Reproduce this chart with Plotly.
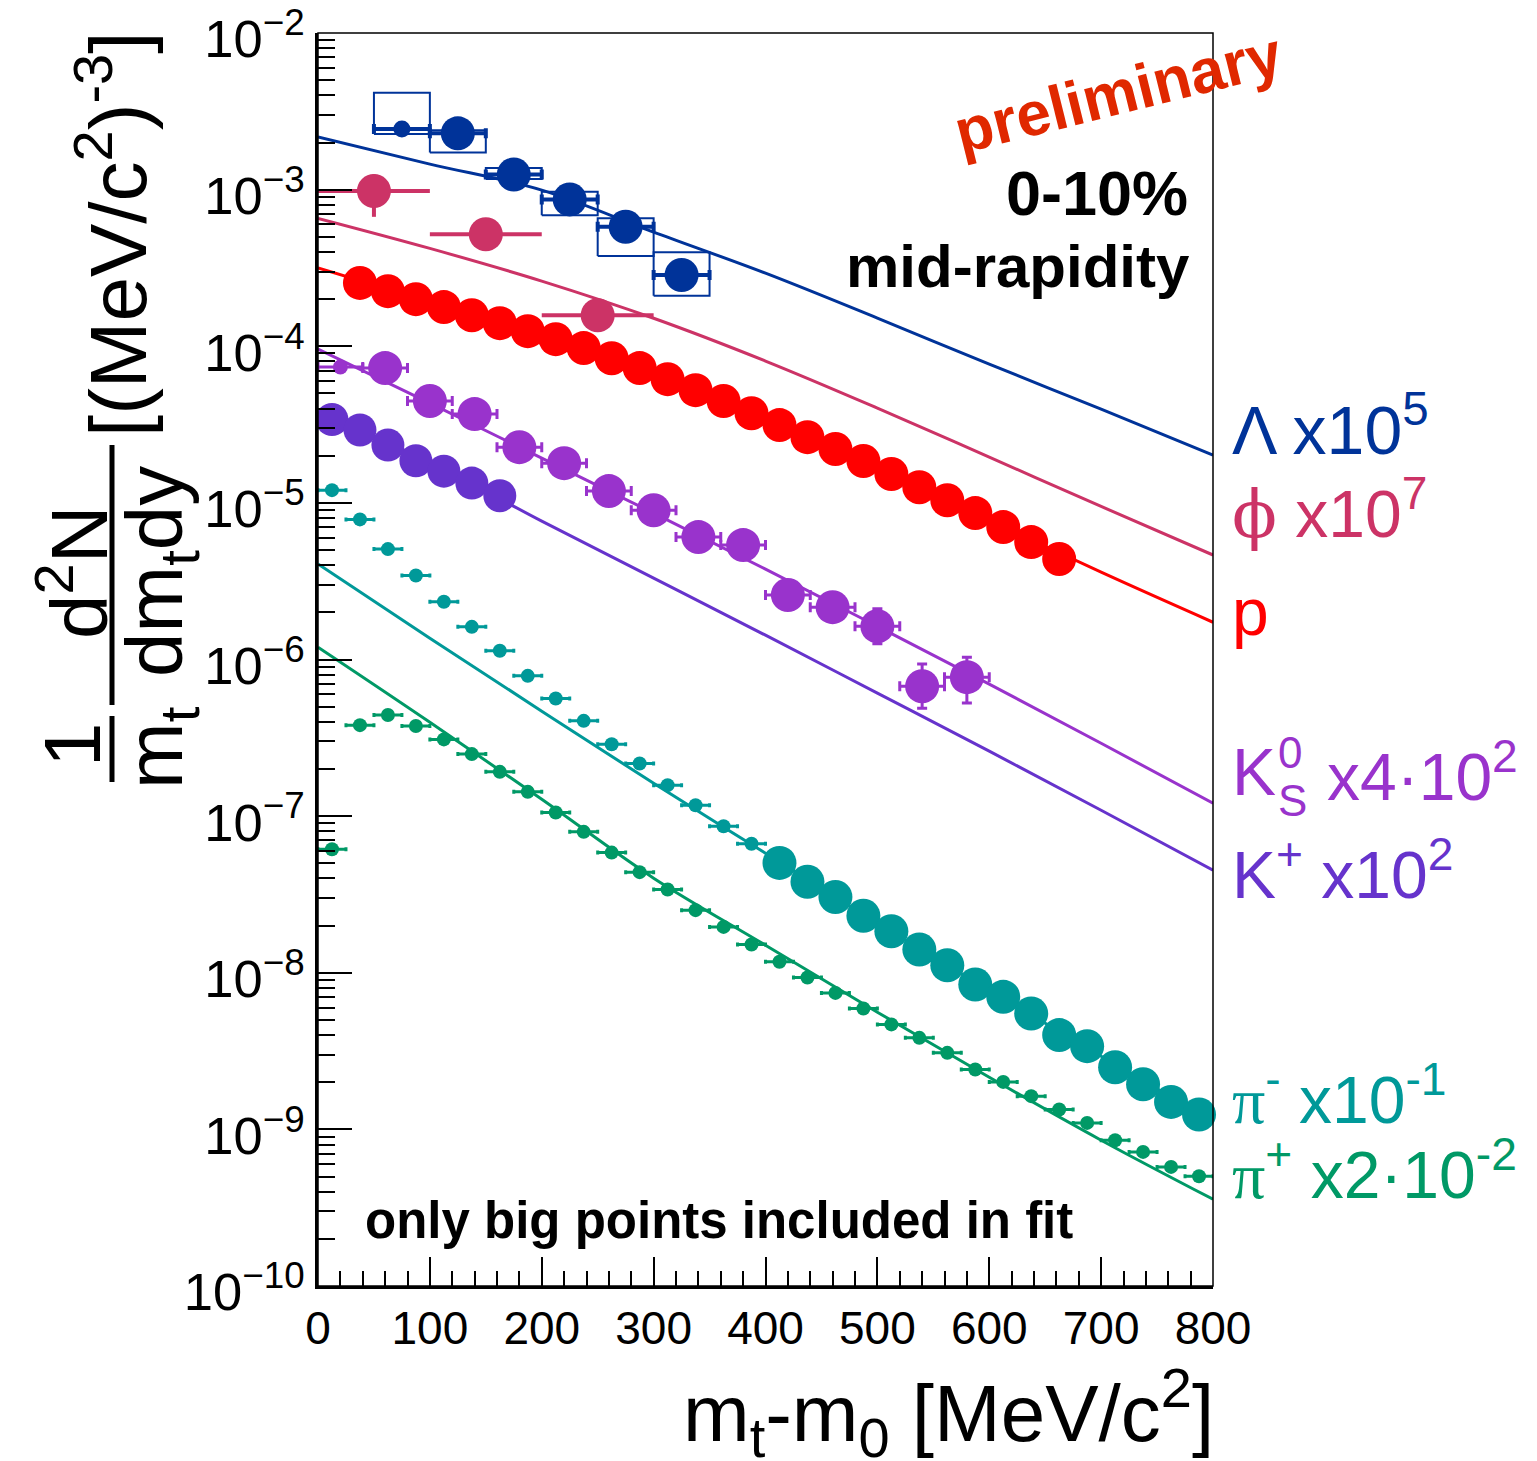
import plotly.graph_objects as go

# ---------------- data ----------------
fit_x = [0, 100, 200, 300, 400, 500, 600, 700, 800]

# Lambda x10^5
lam_x = [75, 125, 175, 225, 275, 325]
lam_y = [2.44e-3, 2.29e-3, 1.25e-3, 8.67e-4, 5.80e-4, 2.85e-4]
lam_xerr = [25, 25, 25, 25, 25, 25]
lam_sys_lo = [2.265e-3, 1.73e-3, 1.169e-3, 6.88e-4, 3.77e-4, 2.10e-4]
lam_sys_hi = [4.16e-3, 2.40e-3, 1.374e-3, 9.69e-4, 6.56e-4, 3.98e-4]
lam_fit = [2.17e-3, 1.457e-3, 9.94e-4, 5.36e-4, 2.93e-4, 1.514e-4, 7.69e-5, 3.97e-5, 2.02e-5]

# phi x10^7
phi_x = [50, 150, 250]
phi_y = [9.8e-4, 5.19e-4, 1.58e-4]
phi_xerr = [50, 50, 50]
phi_yerr_hi = [2.7e-4, 0.0, 0.0]
phi_yerr_lo = [3.09e-4, 0.0, 0.0]
phi_fit = [6.56e-4, 4.22e-4, 2.61e-4, 1.51e-4, 8.05e-5, 4.03e-5, 1.96e-5, 9.5e-6, 4.65e-6]

# protons
p_x = [37.5, 62.5, 87.5, 112.5, 137.5, 162.5, 187.5, 212.5, 237.5, 262.5, 287.5, 312.5, 337.5,
       362.5, 387.5, 412.5, 437.5, 462.5, 487.5, 512.5, 537.5, 562.5, 587.5, 612.5, 637.5, 662.5]
p_y = [2.54e-4, 2.25e-4, 2.00e-4, 1.78e-4, 1.58e-4, 1.406e-4, 1.25e-4, 1.111e-4, 9.74e-5, 8.40e-5,
       7.26e-5, 6.17e-5, 5.25e-5, 4.47e-5, 3.74e-5, 3.14e-5, 2.63e-5, 2.21e-5, 1.85e-5, 1.53e-5,
       1.26e-5, 1.04e-5, 8.61e-6, 7.01e-6, 5.62e-6, 4.38e-6]
p_fit = [3.16e-4, 1.89e-4, 1.04e-4, 6.69e-5, 3.43e-5, 1.67e-5, 7.77e-6, 3.61e-6, 1.73e-6]

# K0S x4*10^2
k0_small_x = [20]
k0_small_y = [7.37e-5]
k0_x = [60, 100, 140, 180, 220, 260, 300, 340, 380, 420, 460, 500, 540, 580]
k0_y = [7.26e-5, 4.47e-5, 3.69e-5, 2.27e-5, 1.795e-5, 1.19e-5, 8.99e-6, 6.05e-6, 5.38e-6,
        2.58e-6, 2.16e-6, 1.63e-6, 6.76e-7, 7.72e-7]
k0_yerr_hi = [0, 0, 0, 0, 0, 0, 0, 0, 0, 0, 0, 4.8e-7, 2.59e-7, 2.64e-7]
k0_yerr_lo = [0, 0, 0, 0, 0, 0, 0, 0, 0, 0, 0, 3.7e-7, 1.87e-7, 2.45e-7]
k0_fit = [9.60e-5, 4.34e-5, 1.93e-5, 8.61e-6, 3.78e-6, 1.63e-6, 6.97e-7, 2.92e-7, 1.21e-7]

# K+ x10^2
kp_x = [12.5, 37.5, 62.5, 87.5, 112.5, 137.5, 162.5]
kp_y = [3.41e-5, 2.92e-5, 2.34e-5, 1.86e-5, 1.596e-5, 1.338e-5, 1.113e-5]
kp_fit = [3.80e-5, 1.82e-5, 7.65e-6, 3.31e-6, 1.43e-6, 6.10e-7, 2.60e-7, 1.09e-7, 4.52e-8]

# pi- x10^-1
pim_small_x = [12.5, 37.5, 62.5, 87.5, 112.5, 137.5, 162.5, 187.5, 212.5, 237.5, 262.5, 287.5,
               312.5, 337.5, 362.5, 387.5]
pim_small_y = [1.207e-5, 7.85e-6, 5.07e-6, 3.44e-6, 2.34e-6, 1.617e-6, 1.137e-6, 7.87e-7,
               5.64e-7, 4.06e-7, 2.88e-7, 2.17e-7, 1.578e-7, 1.175e-7, 8.63e-8, 6.67e-8]
pim_big_x = [412.5, 437.5, 462.5, 487.5, 512.5, 537.5, 562.5, 587.5, 612.5, 637.5, 662.5, 687.5,
             712.5, 737.5, 762.5, 787.5]
pim_big_y = [5.03e-8, 3.81e-8, 3.05e-8, 2.31e-8, 1.843e-8, 1.409e-8, 1.118e-8, 8.42e-9,
             7.02e-9, 5.50e-9, 4.00e-9, 3.40e-9, 2.49e-9, 1.943e-9, 1.498e-9, 1.245e-9]
pim_fit = [4.07e-6, 1.37e-6, 4.68e-7, 1.62e-7, 5.80e-8, 2.07e-8, 7.74e-9, 2.93e-9, 1.128e-9]

# pi+ x2*10^-2
pip_x = [12.5, 37.5, 62.5, 87.5, 112.5, 137.5, 162.5, 187.5, 212.5, 237.5, 262.5, 287.5, 312.5,
         337.5, 362.5, 387.5, 412.5, 437.5, 462.5, 487.5, 512.5, 537.5, 562.5, 587.5, 612.5,
         637.5, 662.5, 687.5, 712.5, 737.5, 762.5, 787.5]
pip_y = [6.15e-8, 3.81e-7, 4.42e-7, 3.76e-7, 3.09e-7, 2.49e-7, 1.918e-7, 1.43e-7, 1.056e-7,
         7.94e-8, 5.85e-8, 4.39e-8, 3.40e-8, 2.51e-8, 1.963e-8, 1.516e-8, 1.177e-8, 9.33e-9,
         7.44e-9, 5.92e-9, 4.68e-9, 3.84e-9, 3.08e-9, 2.41e-9, 2.01e-9, 1.63e-9, 1.34e-9,
         1.100e-9, 8.53e-10, 7.18e-10, 5.76e-10, 5.02e-10]
pip_fit = [1.20e-6, 3.98e-7, 1.284e-7, 4.02e-8, 1.50e-8, 5.60e-9, 2.15e-9, 8.53e-10, 3.58e-10]

x_tick_vals = [0, 100, 200, 300, 400, 500, 600, 700, 800]

# ---------------- styles ----------------
C_LAM = "#003399"
C_PHI = "#cc3366"
C_P = "#ff0000"
C_K0 = "#9933cc"
C_KP = "#6633cc"
C_PIM = "#009999"
C_PIP = "#009966"
FONT = "Liberation Sans"

W, H = 1537, 1461
PL, PR, PT, PB = 318, 1213, 33, 1286


def px(xp):
    return (xp - PL) / (PR - PL)


def py(yp):
    return (PB - yp) / (PB - PT)


fig = go.Figure()

# fit curves
for ys, col in [(lam_fit, C_LAM), (phi_fit, C_PHI), (p_fit, C_P), (k0_fit, C_K0),
                (kp_fit, C_KP), (pim_fit, C_PIM), (pip_fit, C_PIP)]:
    fig.add_trace(go.Scatter(x=fit_x, y=ys, mode="lines", line=dict(color=col, width=3, shape="spline"),
                             hoverinfo="skip", showlegend=False))

# Lambda systematic boxes
bx, by = [], []
for xc, xe, lo, hi in zip(lam_x, lam_xerr, lam_sys_lo, lam_sys_hi):
    bx += [xc - xe, xc + xe, xc + xe, xc - xe, xc - xe, None]
    by += [lo, lo, hi, hi, lo, None]
fig.add_trace(go.Scatter(x=bx, y=by, mode="lines", line=dict(color=C_LAM, width=2),
                         hoverinfo="skip", showlegend=False))


def pts(x, y, col, size, xerr=None, yhi=None, ylo=None, thick=4, cap=5):
    kw = {}
    if xerr is not None:
        kw["error_x"] = dict(type="data", array=xerr, symmetric=True, color=col, thickness=thick, width=cap)
    if yhi is not None:
        kw["error_y"] = dict(type="data", array=yhi, arrayminus=ylo, symmetric=False, color=col,
                             thickness=thick, width=cap)
    return go.Scatter(x=x, y=y, mode="markers", marker=dict(color=col, size=size, line=dict(width=0)),
                      cliponaxis=False, showlegend=False, **kw)


# Lambda
fig.add_trace(pts(lam_x[:1], lam_y[:1], C_LAM, 17, xerr=lam_xerr[:1]))
fig.add_trace(pts(lam_x[1:], lam_y[1:], C_LAM, 34, xerr=lam_xerr[1:]))
# phi
fig.add_trace(pts(phi_x, phi_y, C_PHI, 34, xerr=phi_xerr, yhi=phi_yerr_hi, ylo=phi_yerr_lo, cap=0))
# protons
fig.add_trace(pts(p_x, p_y, C_P, 34))
# K0S
fig.add_trace(pts(k0_small_x, k0_small_y, C_K0, 15, xerr=[20], thick=3, cap=5))
fig.add_trace(pts(k0_x, k0_y, C_K0, 34, xerr=[20] * len(k0_x), yhi=k0_yerr_hi, ylo=k0_yerr_lo,
                  thick=3, cap=5))
# K+
fig.add_trace(pts(kp_x, kp_y, C_KP, 33))
# pi-
fig.add_trace(pts(pim_small_x, pim_small_y, C_PIM, 14, xerr=[12.5] * len(pim_small_x), thick=3, cap=2))
fig.add_trace(pts(pim_big_x, pim_big_y, C_PIM, 34))
# pi+
fig.add_trace(pts(pip_x, pip_y, C_PIP, 14, xerr=[12.5] * len(pip_x), thick=3, cap=2))

ann = []


def A(text, xp, yp, size, color="black", xanchor="left", yanchor="middle", angle=0, family=FONT,
      weight="normal"):
    ann.append(dict(text=text, x=px(xp), y=py(yp), xref="paper", yref="paper", showarrow=False,
                    xanchor=xanchor, yanchor=yanchor, textangle=angle,
                    font=dict(size=size, color=color, family=family, weight=weight)))


# right-side labels
A("Λ x10<sup>5</sup>", 1230, 425, 68, C_LAM)
A('<span style="font-family:DejaVu Serif">ϕ</span> x10<sup>7</sup>', 1230, 510, 66, C_PHI)
A("p", 1230, 612, 66, C_P)
A("K", 1230, 772, 66, C_K0)
A("0", 1276, 752, 44, C_K0)
A("S", 1276, 800, 44, C_K0)
A("x4·10<sup>2</sup>", 1325, 772, 66, C_K0)
A("K<sup>+</sup> x10<sup>2</sup>", 1230, 870, 66, C_KP)
A('<span style="font-family:Liberation Serif">π</span><sup>-</sup> x10<sup>-1</sup>', 1230, 1095, 66, C_PIM)
A('<span style="font-family:Liberation Serif">π</span><sup>+</sup> x2·10<sup>-2</sup>', 1230, 1170, 66, C_PIP)

# in-plot texts
A("preliminary", 1118, 93, 62, "#e02800", xanchor="center", angle=-14, weight="bold")
A("0-10%", 1190, 193, 63, xanchor="right", weight="bold")
A("mid-rapidity", 1192, 266, 60, xanchor="right", weight="bold")
A("only big points included in fit", 363, 1220, 51, weight="bold")

# axis titles
A("m<sub>t</sub>-m<sub>0</sub> [MeV/c<sup>2</sup>]", 1216, 1412, 80, xanchor="right")
A("1", 73, 745, 80, xanchor="center", angle=-90)
A("m<sub>t</sub>", 160, 748, 80, xanchor="center", angle=-90)
A("d<sup>2</sup>N", 73, 573, 80, xanchor="center", angle=-90)
A("dm<sub>t</sub>dy", 160, 572, 80, xanchor="center", angle=-90)
A("[(MeV/c<sup>2</sup>)<sup>-3</sup>]", 112, 235, 80, xanchor="center", angle=-90)

shapes = [
    dict(type="rect", xref="paper", yref="paper", x0=0, x1=1, y0=0, y1=1, line=dict(color="black", width=1.5)),
    dict(type="line", xref="paper", yref="paper", x0=px(112), x1=px(112), y0=py(716), y1=py(782),
         line=dict(color="black", width=5)),
    dict(type="line", xref="paper", yref="paper", x0=px(112), x1=px(112), y0=py(445), y1=py(705),
         line=dict(color="black", width=5)),
]

fig.update_layout(
    width=W, height=H, autosize=False,
    margin=dict(l=PL, r=W - PR, t=PT, b=H - PB, pad=0, autoexpand=False),
    paper_bgcolor="white", plot_bgcolor="white",
    showlegend=False,
    annotations=ann, shapes=shapes,
    font=dict(family=FONT, color="black"),
    xaxis=dict(range=[0, 800], tickvals=x_tick_vals, ticks="inside", ticklen=29, tickwidth=2,
               tickcolor="black", showline=True, linewidth=3, linecolor="black", showgrid=False,
               zeroline=False, tickfont=dict(size=46, family=FONT, color="black"),
               ticklabelstandoff=0, automargin=False, ticklabeloverflow="allow",
               minor=dict(dtick=20, ticks="inside", ticklen=15, tickwidth=2, tickcolor="black", showgrid=False)),
    yaxis=dict(type="log", range=[-10, -1.9995], dtick=1, exponentformat="power",
               ticks="inside", ticklen=34, automargin=False, ticklabeloverflow="allow",
               tickwidth=2, tickcolor="black", showline=True, linewidth=3, linecolor="black",
               showgrid=False, zeroline=False, tickfont=dict(size=42, family=FONT, color="black"),
               ticklabelstandoff=2, ticklabelshift=6,
               minor=dict(ticks="inside", ticklen=17, tickwidth=2, tickcolor="black",
                          showgrid=False)),
)

fig.write_html("out.html")
